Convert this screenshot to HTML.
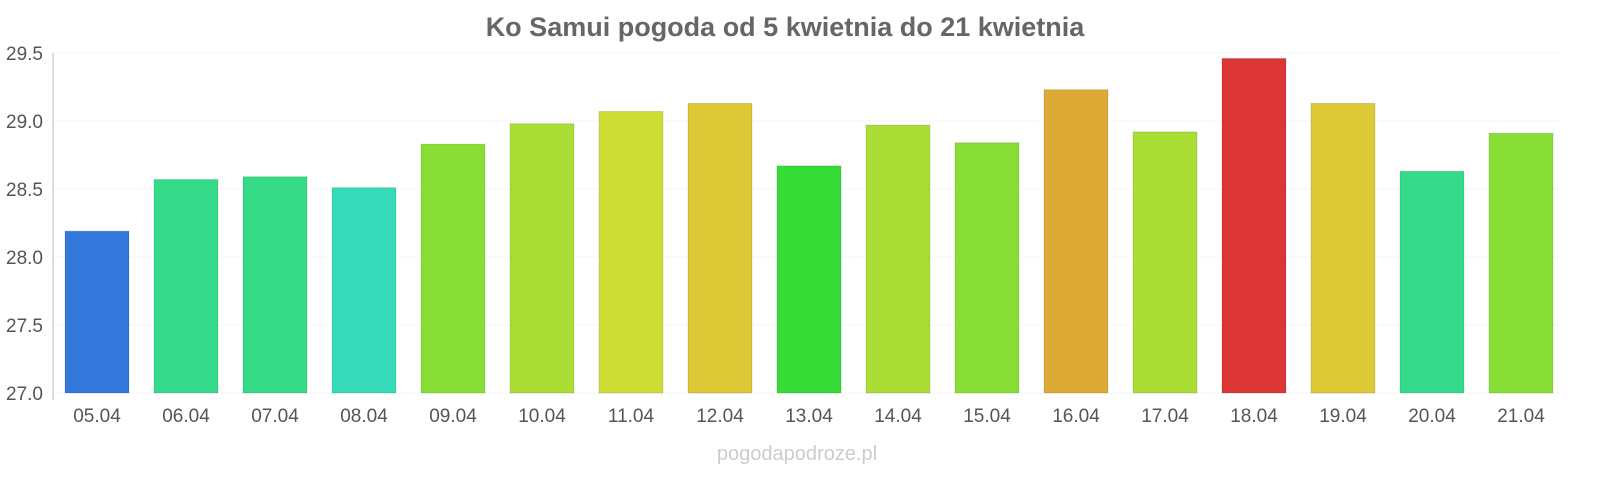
<!DOCTYPE html>
<html><head><meta charset="utf-8"><style>
html,body{margin:0;padding:0;background:#fff;}
svg{display:block;font-family:"Liberation Sans",sans-serif;}
</style></head><body>
<svg width="1600" height="480" viewBox="0 0 1600 480" xmlns="http://www.w3.org/2000/svg">
<text x="785" y="36" text-anchor="middle" font-size="27" font-weight="bold" fill="#666">Ko Samui pogoda od 5 kwietnia do 21 kwietnia</text>
<g stroke="#eee" stroke-width="1" stroke-dasharray="2,2">
<line x1="53" x2="1562" y1="53" y2="53"/>
<line x1="53" x2="1562" y1="121" y2="121"/>
<line x1="53" x2="1562" y1="189" y2="189"/>
<line x1="53" x2="1562" y1="257" y2="257"/>
<line x1="53" x2="1562" y1="325" y2="325"/>
<line x1="53" x2="1562" y1="393" y2="393"/>
</g>
<line x1="53" x2="53" y1="53" y2="400" stroke="#bbb" stroke-width="1"/>
<g font-size="19" fill="#555" text-anchor="end">
<text x="43" y="60">29.5</text>
<text x="43" y="128">29.0</text>
<text x="43" y="196">28.5</text>
<text x="43" y="264">28.0</text>
<text x="43" y="332">27.5</text>
<text x="43" y="400">27.0</text>
</g>
<g id="bars"></g>
<g id="labels" font-size="19" fill="#555" text-anchor="middle"></g>
<text x="797" y="460" text-anchor="middle" font-size="20" fill="#ccc">pogodapodroze.pl</text>
<script>
var v=[28.19,28.57,28.59,28.51,28.83,28.98,29.07,29.13,28.67,28.97,28.84,29.23,28.92,29.46,29.13,28.63,28.91];
var c=["#3578dc","#35db8a","#35db87","#35dbb9","#88de35","#aade35","#cfde35","#dcc935","#35dc35","#aade35","#88de35","#dcaa35","#aade35","#dc3535","#dcc935","#35db8a","#88de35"];
var b=document.getElementById("bars"),l=document.getElementById("labels"),ns="http://www.w3.org/2000/svg";
for(var i=0;i<17;i++){var x=65+i*89,y=393-(v[i]-27)*136;
var r=document.createElementNS(ns,"rect");r.setAttribute("x",x);r.setAttribute("y",y);r.setAttribute("width",64);r.setAttribute("height",393-y);r.setAttribute("fill",c[i]);r.setAttribute("stroke","rgba(0,0,0,0.12)");b.appendChild(r);
var t=document.createElementNS(ns,"text");t.setAttribute("x",x+32);t.setAttribute("y",422);var d=5+i;t.textContent=(d<10?"0"+d:d)+".04";l.appendChild(t);}
</script>
</svg>
</body></html>
